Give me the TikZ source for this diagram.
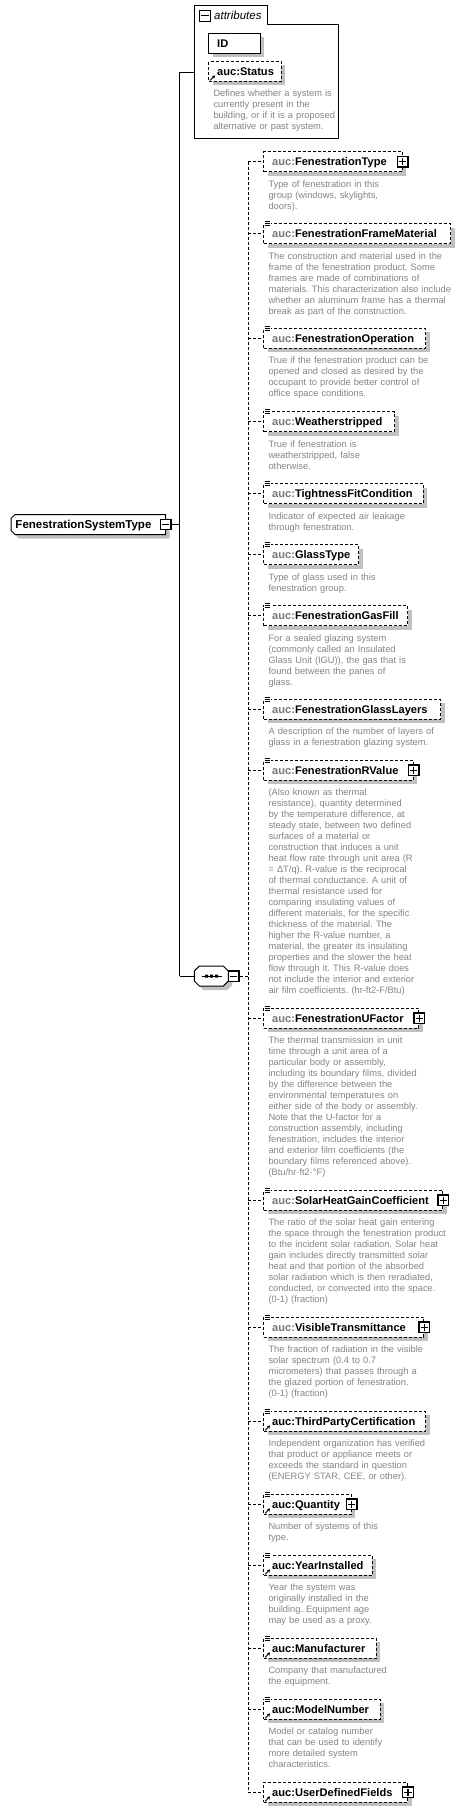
\documentclass[tikz,border=0pt]{standalone}
\usepackage{fontspec}
\setmainfont{Liberation Sans}
\usetikzlibrary{shadows,calc,arrows.meta}
\definecolor{descgray}{RGB}{132,132,132}
\definecolor{prefgray}{RGB}{120,120,120}
\definecolor{shadowgray}{RGB}{192,192,192}
\frenchspacing
\tikzset{
  shadowed/.style={general shadow={fill=shadowgray, shadow xshift=4pt, shadow yshift=-4pt}},
  elbox/.style={draw=black, line width=1pt, fill=white, rectangle, minimum height=20pt, inner sep=0pt, anchor=west, shadowed},
  delbox/.style={elbox, dash pattern=on 3pt off 2pt},
  nametxt/.style={font=\fontsize{11.1}{13}\selectfont\bfseries, inner sep=0pt, anchor=base west, text=black},
  desctxt/.style={font=\fontsize{9.3}{11}\selectfont\frenchspacing, text=descgray, inner sep=0pt, anchor=base west, text width=200pt, align=left},
  dline/.style={line width=1pt, dash pattern=on 3pt off 2pt},
  sline/.style={line width=1pt},
  pmbox/.style={draw=black, fill=white, line width=1.2pt, minimum size=10.5pt, inner sep=0pt},
  plusbox/.style={pmbox, path picture={\draw[line width=1.2pt] ([xshift=-3.6pt]path picture bounding box.center) -- ([xshift=3.6pt]path picture bounding box.center) ([yshift=-3.6pt]path picture bounding box.center) -- ([yshift=3.6pt]path picture bounding box.center);}},
  minusbox/.style={pmbox, path picture={\draw[line width=1.2pt] ([xshift=-3.6pt]path picture bounding box.center) -- ([xshift=3.6pt]path picture bounding box.center);}},
  ghost/.style={rectangle, inner sep=0pt, draw=none},
  shapeline/.style={draw=black, line width=1pt, fill=white}
}
\newcommand{\chld}[4]{%
  \node[delbox, minimum width={#3-263.3}] (#1) at (263.3,#2) {};
  \node[nametxt] (#1t) at ([xshift=8.7pt,yshift=-3.8pt]#1.west) {#4};
  \draw[dline] (#1.west -| jv) -- (#1.west);}
\newcommand{\dsc}[2]{\node[desctxt] (#1d) at ([xshift=5pt,yshift=-25.6pt]#1.west) {#2};}
\newcommand{\pls}[1]{\node[plusbox] (#1p) at (#1.east) {};}
\newcommand{\docic}[1]{%
  \fill[white] ([xshift=0.6pt,yshift=3pt]#1.north west) rectangle ([xshift=7.6pt,yshift=-3.4pt]#1.north west);
  \draw[line width=0.9pt] ([xshift=1.4pt,yshift=1.8pt]#1.north west) -- ++(5.6,0)
    ([xshift=1.4pt,yshift=-0.2pt]#1.north west) -- ++(5.2,0)
    ([xshift=1.4pt,yshift=-2.2pt]#1.north west) -- ++(5.2,0);}
\newcommand{\refic}[1]{%
  \draw[line width=0.9pt, -{Stealth[length=3.2pt,width=3.6pt]}] ([xshift=1.8pt,yshift=1.4pt]#1.south west) -- ++(5,-5);}
\newcommand{\gp}{\textcolor{prefgray}{auc:}}
\begin{document}
\begin{tikzpicture}[x=1pt,y=-1pt]
\useasboundingbox (0,0) rectangle (464,1812);
\coordinate (jv) at (248.3,0);
\coordinate (ma) at (179.7,72);
\coordinate (mb) at (179.7,976);

% main node
\node[ghost, minimum width=154.7pt, minimum height=20pt, anchor=west] (main) at (11,524.5) {};
\fill[shadowgray] (19,518.5) -- (169.7,518.5) -- (169.7,538.5) -- (19,538.5) -- (15,534.5) -- (15,522.5) -- cycle;
\path[shapeline] (15,514.5) -- (165.7,514.5) -- (165.7,534.5) -- (15,534.5) -- (11,530.5) -- (11,518.5) -- cycle;
\node[nametxt, font=\fontsize{11.5}{13}\selectfont\bfseries] (maint) at (15.3,528.3) {FenestrationSystemType};
\node[minusbox] (mainm) at (165.7,524.5) {};
\draw[sline] (mainm.east) -- (mainm.east -| ma);
\draw[sline] (ma) -- (mb);

% attributes
\node[ghost, minimum width=144.4pt, minimum height=133pt, anchor=north west] (attr) at (194.3,5.3) {};
\path[shapeline] (194.3,5.3) -- (267.3,5.3) -- (267.3,24.3) -- (338.7,24.3) -- (338.7,138.3) -- (194.3,138.3) -- cycle;
\node[minusbox, minimum size=11pt] (attrm) at (205,15.7) {};
\node[nametxt, font=\fontsize{11.5}{13}\selectfont\itshape] (attrt) at (214,19.6) {attributes};
\draw[sline] (ma) -- (ma -| attr.west);
\node[elbox, minimum width=51.4pt] (id) at (208.3,43.3) {};
\node[nametxt] (idt) at ([xshift=8.7pt,yshift=-3.8pt]id.west) {ID};
\node[delbox, minimum width=72.4pt] (status) at (208.3,71.3) {};
\node[nametxt] (statust) at ([xshift=8.7pt,yshift=-3.8pt]status.west) {auc:Status};
\refic{status}
\dsc{status}{Defines whether a system is\\currently present in the\\building, or if it is a proposed\\alternative or past system.}

% sequence
\node[ghost, minimum width=34pt, minimum height=20pt, anchor=west] (seq) at (194.3,976) {};
\fill[shadowgray] (203.3,970) -- (227.3,970) -- (232.3,975) -- (232.3,985) -- (227.3,990) -- (203.3,990) -- (198.3,985) -- (198.3,975) -- cycle;
\path[shapeline] (199.3,966) -- (223.3,966) -- (228.3,971) -- (228.3,981) -- (223.3,986) -- (199.3,986) -- (194.3,981) -- (194.3,971) -- cycle;
\draw[line width=1pt] (201.5,976) -- (221.5,976);
\fill[black] (205,974.5) rectangle (208,977.5) (210,974.5) rectangle (213,977.5) (215,974.5) rectangle (218,977.5);
\node[minusbox] (seqm) at (233.7,976.3) {};
\draw[sline] (mb) -- (seq.west);
\draw[dline] (seqm.east) -- (seqm.east -| jv);

% children
\chld{c1}{161.7}{401.7}{\gp FenestrationType}
\pls{c1}
\dsc{c1}{Type of fenestration in this\\group (windows, skylights,\\doors).}

\chld{c2}{233.5}{450}{\gp FenestrationFrameMaterial}
\docic{c2}
\dsc{c2}{The construction and material used in the\\frame of the fenestration product. Some\\frames are made of combinations of\\materials. This characterization also include\\whether an aluminum frame has a thermal\\break as part of the construction.}

\chld{c3}{338.3}{425}{\gp FenestrationOperation}
\docic{c3}
\dsc{c3}{True if the fenestration product can be\\opened and closed as desired by the\\occupant to provide better control of\\office space conditions.}

\chld{c4}{421.5}{394}{\gp Weatherstripped}
\docic{c4}
\dsc{c4}{True if fenestration is\\weatherstripped, false\\otherwise.}

\chld{c5}{493.7}{422.7}{\gp TightnessFitCondition}
\docic{c5}
\dsc{c5}{Indicator of expected air leakage\\through fenestration.}

\chld{c6}{554.7}{358}{\gp GlassType}
\docic{c6}
\dsc{c6}{Type of glass used in this\\fenestration group.}

\chld{c7}{615.7}{407}{\gp FenestrationGasFill}
\docic{c7}
\dsc{c7}{For a sealed glazing system\\(commonly called an Insulated\\Glass Unit (IGU)), the gas that is\\found between the panes of\\glass.}

\chld{c8}{709.3}{440}{\gp FenestrationGlassLayers}
\docic{c8}
\dsc{c8}{A description of the number of layers of\\glass in a fenestration glazing system.}

\chld{c9}{770.3}{412.7}{\gp FenestrationRValue}
\docic{c9}
\pls{c9}
\dsc{c9}{(Also known as thermal\\resistance), quantity determined\\by the temperature difference, at\\steady state, between two defined\\surfaces of a material or\\construction that induces a unit\\heat flow rate through unit area (R\\= ΔT/q). R-value is the reciprocal\\of thermal conductance. A unit of\\thermal resistance used for\\comparing insulating values of\\different materials, for the specific\\thickness of the material. The\\higher the R-value number, a\\material, the greater its insulating\\properties and the slower the heat\\flow through it. This R-value does\\not include the interior and exterior\\air film coefficients. (hr-ft2-F/Btu)}

\chld{c10}{1018.3}{418.3}{\gp FenestrationUFactor}
\docic{c10}
\pls{c10}
\dsc{c10}{The thermal transmission in unit\\time through a unit area of a\\particular body or assembly,\\including its boundary films, divided\\by the difference between the\\environmental temperatures on\\either side of the body or assembly.\\Note that the U-factor for a\\construction assembly, including\\fenestration, includes the interior\\and exterior film coefficients (the\\boundary films referenced above).\\(Btu/hr·ft2·°F)}

\chld{c11}{1200.3}{442.3}{\gp SolarHeatGainCoefficient}
\docic{c11}
\pls{c11}
\dsc{c11}{The ratio of the solar heat gain entering\\the space through the fenestration product\\to the incident solar radiation. Solar heat\\gain includes directly transmitted solar\\heat and that portion of the absorbed\\solar radiation which is then reradiated,\\conducted, or convected into the space.\\(0-1) (fraction)}

\chld{c12}{1327.3}{423.3}{\gp VisibleTransmittance}
\docic{c12}
\pls{c12}
\dsc{c12}{The fraction of radiation in the visible\\solar spectrum (0.4 to 0.7\\micrometers) that passes through a\\the glazed portion of fenestration.\\(0-1) (fraction)}

\chld{c13}{1421.3}{425}{auc:ThirdPartyCertification}
\docic{c13}
\refic{c13}
\dsc{c13}{Independent organization has verified\\that product or appliance meets or\\exceeds the standard in question\\(ENERGY STAR, CEE, or other).}

\chld{c14}{1504.3}{350.7}{auc:Quantity}
\docic{c14}
\refic{c14}
\pls{c14}
\dsc{c14}{Number of systems of this\\type.}

\chld{c15}{1565.3}{371.7}{auc:YearInstalled}
\docic{c15}
\refic{c15}
\dsc{c15}{Year the system was\\originally installed in the\\building. Equipment age\\may be used as a proxy.}

\chld{c16}{1648.3}{375.7}{auc:Manufacturer}
\docic{c16}
\refic{c16}
\dsc{c16}{Company that manufactured\\the equipment.}

\chld{c17}{1709.3}{379.7}{auc:ModelNumber}
\docic{c17}
\refic{c17}
\dsc{c17}{Model or catalog number\\that can be used to identify\\more detailed system\\characteristics.}

\chld{c18}{1792.3}{407}{auc:UserDefinedFields}
\refic{c18}
\pls{c18}

\draw[dline] (c1.west -| jv) -- (c18.west -| jv);
\end{tikzpicture}
\end{document}
